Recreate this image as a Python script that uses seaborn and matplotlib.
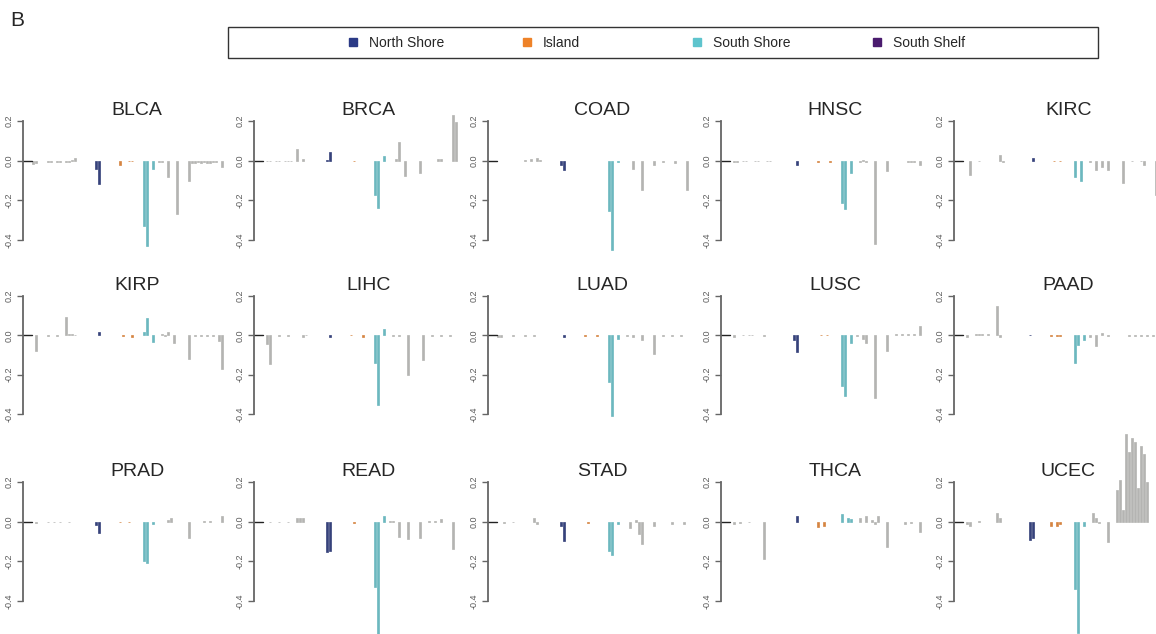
import matplotlib
matplotlib.use("Agg")
import pandas as pd
import matplotlib.pyplot as plt
from matplotlib.lines import Line2D
from matplotlib.patches import Rectangle
import seaborn as sns

# ---------------------------
# Data
# ---------------------------
cancers = ["BLCA", "BRCA", "COAD", "HNSC", "KIRC",
           "KIRP", "LIHC", "LUAD", "LUSC", "PAAD",
           "PRAD", "READ", "STAD", "THCA", "UCEC"]

# region of each probe slot (65 slots per panel)
regions = (["Open Sea"] * 20 + ["North Shore"] * 5 + ["Open Sea"] * 4
           + ["Island"] * 6 + ["South Shore"] * 7 + ["Open Sea"] * 23)

blca = [-0.015, -0.01, 0, 0, 0, -0.005, -0.005, 0, -0.005, -0.005, 0, -0.005, -0.008,
        0.005, 0.015, 0, 0, 0, 0, 0, 0, -0.04, -0.12, 0, 0, 0,
        0, 0, 0, -0.02, 0, 0, -0.004, -0.004, 0, 0, 0, -0.33, -0.43,
        0, -0.04, 0, -0.005, -0.005, 0, -0.08, 0, 0, -0.27, 0, 0, 0,
        -0.10, -0.01, -0.01, -0.008, -0.01, -0.008, -0.01, -0.01, -0.008, -0.005, 0, -0.03, 0]
brca = [0, -0.003, -0.003, 0, -0.003, -0.003, 0, -0.003, -0.003, -0.003, 0, 0.06, 0,
        0.01, 0, 0, 0, 0, 0, 0, 0, 0.003, 0.045, 0, 0, 0,
        0, 0, 0, 0, -0.003, 0, 0, 0, 0, 0, 0, -0.175, -0.24,
        0, 0.025, 0, 0, 0, 0.01, 0.095, 0, -0.075, 0, 0, 0, 0,
        -0.06, 0, 0, 0, 0, 0, 0.01, 0.008, 0, 0, 0, 0.23, 0.195]
coad = [0, 0, 0, 0, 0, 0, 0, 0, 0, 0.003, 0, 0.01, 0,
        0.013, 0.003, 0, 0, 0, 0, 0, 0, -0.02, -0.045, 0, 0, 0,
        0, 0, 0, 0, 0, 0, 0, 0, 0, 0, 0, -0.255, -0.45,
        0, -0.005, 0, 0, 0, 0, -0.04, 0, 0, -0.15, 0, 0, 0,
        -0.02, 0, 0, -0.005, 0, 0, 0, -0.01, 0, 0, 0, -0.15, 0]
hnsc = [0, -0.005, -0.005, 0, -0.003, -0.003, 0, 0, -0.003, -0.003, 0, 0, -0.003,
        -0.003, 0, 0, 0, 0, 0, 0, 0, 0, -0.02, 0, 0, 0,
        0, 0, 0, -0.005, 0, 0, 0, -0.005, 0, 0, 0, -0.215, -0.245,
        0, -0.06, 0, 0, -0.005, 0.005, -0.005, 0, 0, -0.42, 0, 0, 0,
        -0.05, 0, 0, 0, 0, 0, 0, -0.005, -0.008, -0.005, 0, -0.02, 0]
kirc = [0, 0, -0.07, 0, 0, -0.003, 0, 0, 0, 0, 0, 0, 0.03,
        -0.005, 0, 0, 0, 0, 0, 0, 0, 0, 0, 0.012, 0, 0,
        0, 0, 0, 0, -0.003, 0, -0.003, 0, 0, 0, 0, -0.08, 0,
        -0.105, 0, 0, -0.005, 0, -0.045, 0, -0.03, 0, -0.045, 0, 0, 0,
        0, -0.115, 0, 0, -0.003, 0, 0, -0.003, -0.02, 0, 0, 0, -0.175]
kirp = [0, -0.08, 0, 0, 0, -0.003, 0, 0, -0.003, 0, 0, 0.095, 0.005,
        0.005, 0.003, 0, 0, 0, 0, 0, 0, 0, 0.015, 0, 0, 0,
        0, 0, 0, 0, -0.005, 0, 0, -0.01, 0, 0, 0, 0.015, 0.09,
        0, -0.035, 0, 0, 0.005, -0.005, 0.015, 0, -0.04, 0, 0, 0, 0,
        -0.12, 0, -0.003, 0, -0.003, 0, -0.003, 0, -0.003, 0, -0.03, -0.17, 0]
lihc = [0, -0.045, -0.145, 0, 0, -0.003, 0, 0, -0.003, 0, 0, 0, 0,
        -0.01, 0.003, 0, 0, 0, 0, 0, 0, 0, -0.008, 0, 0, 0,
        0, 0, 0, 0.003, 0, 0, 0, -0.01, 0, 0, 0, -0.14, -0.355,
        0, 0.03, 0, 0, -0.003, 0, -0.003, 0, 0, -0.2, 0, 0, 0,
        0, -0.125, 0, 0, -0.003, 0, 0, -0.003, 0, 0, -0.003, 0, 0]
luad = [-0.01, -0.008, 0, 0, 0, -0.003, 0, 0, 0, -0.003, 0, 0, -0.003,
        0, 0, 0, 0, 0, 0, 0, 0, 0, -0.008, 0, 0, 0,
        0, 0, 0, -0.003, 0, 0, 0, -0.003, 0, 0, 0, -0.235, -0.41,
        0, -0.02, 0, 0, -0.005, 0, -0.008, 0, 0, -0.025, 0, 0, 0,
        -0.095, 0, 0, -0.003, 0, 0, -0.003, 0, 0, -0.003, 0, 0, 0]
lusc = [0, -0.008, 0, 0, 0.003, 0, 0.003, 0.003, 0, 0, 0, -0.002, 0,
        0, 0, 0, 0, 0, 0, 0, 0, -0.025, -0.085, 0, 0, 0,
        0, 0, 0, 0, 0.002, 0, 0.002, 0, 0, 0, 0, -0.26, -0.31,
        0, -0.04, 0, -0.005, 0, -0.02, -0.04, 0, 0, -0.32, 0, 0, 0,
        -0.08, 0, 0, 0.005, 0, 0.005, 0, 0.005, 0, 0.005, 0, 0.045, 0]
paad = [0, -0.008, 0, 0, 0.005, 0.005, 0.005, 0, 0.008, 0, 0, 0.15, -0.01,
        0, 0, 0, 0, 0, 0, 0, 0, 0, 0.002, 0, 0, 0,
        0, 0, 0, -0.005, 0, -0.005, -0.005, 0, 0, 0, 0, -0.14, -0.05,
        0, -0.025, 0, -0.01, 0, -0.055, 0, 0.01, 0, -0.005, 0, 0, 0,
        0, 0, 0, -0.003, 0, -0.003, 0, -0.003, 0, -0.003, 0, -0.003, 0]
prad = [0, -0.008, 0, 0, 0, -0.003, 0, -0.003, 0, -0.003, 0, 0, -0.003,
        0, 0, 0, 0, 0, 0, 0, 0, -0.015, -0.055, 0, 0, 0,
        0, 0, 0, -0.003, 0, 0, -0.003, 0, 0, 0, 0, -0.2, -0.21,
        0, -0.01, 0, 0, 0, 0, 0.01, 0.02, 0, 0, 0, 0, 0,
        -0.08, 0, 0, 0, 0, 0.003, 0, 0.003, 0, 0, 0, 0.03, 0]
read = [0, 0, -0.003, 0, 0, -0.003, 0, 0, -0.003, 0, 0, 0.02, 0.02,
        0.02, 0, 0, 0, 0, 0, 0, 0, -0.155, -0.15, 0, 0, 0,
        0, 0, 0, 0, -0.005, 0, 0, 0, 0, 0, 0, -0.33, -0.57,
        0, 0.03, 0, 0.005, 0.003, 0, -0.075, 0, 0, -0.085, 0, 0, 0,
        -0.08, 0, 0, 0.005, 0, 0.005, 0, 0.015, 0, 0, 0, -0.14, 0]
stad = [0, 0, -0.005, 0, 0, -0.003, 0, 0, 0, 0, 0, 0, 0.02,
        -0.01, 0, 0, 0, 0, 0, 0, 0, -0.02, -0.095, 0, 0, 0,
        0, 0, 0, 0, -0.005, 0, 0, 0, 0, 0, 0, -0.15, -0.17,
        0, -0.01, 0, 0, 0, -0.03, 0, 0.01, -0.06, -0.115, 0, 0, 0,
        -0.02, 0, 0, 0, 0, 0, -0.01, 0, 0, 0, -0.01, 0, 0]
thca = [0, -0.01, 0, -0.005, 0, 0, -0.003, 0, 0, 0, 0, -0.19, 0,
        0, 0, 0, 0, 0, 0, 0, 0, 0, 0.03, 0, 0, 0,
        0, 0, 0, -0.025, 0, -0.02, 0, 0, 0, 0, 0, 0.04, 0,
        0.02, 0.015, 0, 0, 0.02, 0, 0.03, 0, 0.01, -0.01, 0.03, 0, 0,
        -0.13, 0, 0, 0, 0, 0, -0.01, 0, -0.005, 0, 0, -0.05, 0]
ucec = [0, -0.01, -0.02, 0, 0, 0.005, 0, 0, 0, 0, 0, 0.045, 0.02,
        0, 0, 0, 0, 0, 0, 0, 0, 0, -0.09, -0.08, 0, 0,
        0, 0, 0, -0.02, 0, -0.02, -0.01, 0, 0, 0, 0, -0.34, -0.56,
        0, -0.02, 0, 0, 0.045, 0.02, -0.005, 0, 0, -0.1, 0, 0, 0.16,
        0.21, 0.06, 0.44, 0.35, 0.42, 0.40, 0.17, 0.38, 0.34, 0.20, 0, 0, 0]

panel_values = [blca, brca, coad, hnsc, kirc, kirp, lihc, luad, lusc, paad,
                prad, read, stad, thca, ucec]

legend_names = ["North Shore", "Island", "South Shore", "South Shelf"]
colors = {"North Shore": "#2B3A86", "Island": "#EE8228",
          "South Shore": "#5EC4CD", "South Shelf": "#4A1B6E",
          "Open Sea": "#B4B4B2"}

# ---------------------------
# Figure
# ---------------------------
sns.set_style("white")
plt.rcParams["font.family"] = ["Liberation Sans", "DejaVu Sans"]
plt.rcParams["axes.unicode_minus"] = False

W, H = 1156, 634
fig = plt.figure(figsize=(W / 100, H / 100), dpi=100)

col_left = [23, 254, 488, 721, 954]
row_top = [121, 296, 482]
row_bot = [240, 414, 601]
ax_w = 202

for i, (name, vals) in enumerate(zip(cancers, panel_values)):
    r, c = divmod(i, 5)
    ax = fig.add_axes([col_left[c] / W, 1 - row_bot[r] / H,
                       ax_w / W, (row_bot[r] - row_top[r]) / H])
    df = pd.DataFrame({"slot": range(len(vals)), "value": vals, "region": regions})
    sns.barplot(data=df, x="slot", y="value", hue="region", palette=colors,
                dodge=False, legend=False, errorbar=None, width=0.9,
                ax=ax)
    # slightly thicker bars, like the blurred original; empty slots stay blank
    for p in ax.patches:
        p.set_clip_on(False)
        p.set_edgecolor(p.get_facecolor())
        p.set_linewidth(0.5 if p.get_height() != 0 else 0)
    ax.axhline(0, xmin=0, xmax=0.045, color="#222222", lw=1)

    ax.set_xlim(-10 / 3, (ax_w - 10) / 3)
    ax.set_ylim(-0.4, 0.2)
    ax.set_xlabel("")
    ax.set_ylabel("")
    ax.set_xticks([])
    ax.set_yticks([-0.4, -0.2, 0.0, 0.2])
    ax.set_yticklabels(["-0.4", "-0.2", "0.0", "0.2"], rotation=90, va="center",
                       fontsize=6.5, color="#5a5a5a")
    ax.tick_params(axis="y", length=4, width=1, color="#666666", pad=3, left=True)
    for s in ["top", "right", "bottom"]:
        ax.spines[s].set_visible(False)
    ax.spines["left"].set_color("#666666")
    ax.spines["left"].set_linewidth(1.3)
    ax.patch.set_alpha(0)
    ax.set_title(name, fontsize=14, x=0.565, pad=4)

# legend box
fig.add_artist(Rectangle((228 / W, 1 - 58 / H), 870 / W, 31 / H,
                         transform=fig.transFigure, fill=False,
                         ec="#333333", lw=1))
marker_x = [353, 527, 697, 877]
for name, mx in zip(legend_names, marker_x):
    h = Line2D([], [], marker="s", ls="", color=colors[name], markersize=6)
    fig.legend(handles=[h], labels=[name], loc="center left",
               bbox_to_anchor=((mx - 5) / W, 1 - 43 / H), frameon=False,
               borderpad=0, borderaxespad=0, handlelength=0.7,
               handletextpad=0.8, fontsize=10)

fig.text(10 / W, 1 - 20 / H, "B", fontsize=15, va="center", ha="left")

plt.savefig("out.png", dpi=100)
plt.close()
